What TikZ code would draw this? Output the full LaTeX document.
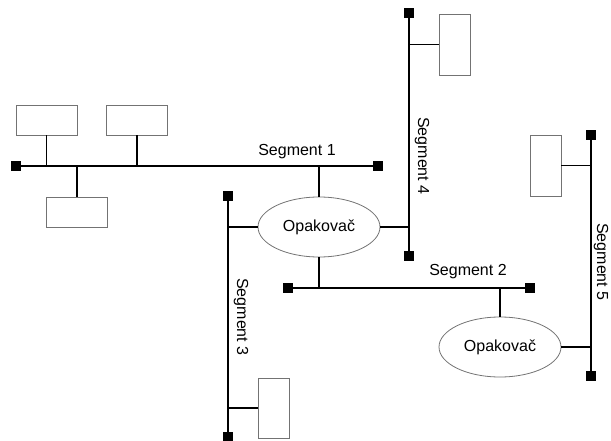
\documentclass[tikz,border=0pt]{standalone}
\usepackage{fontspec}
\setmainfont{Liberation Sans}
\usetikzlibrary{shapes.geometric}
\begin{document}
\begin{tikzpicture}[x=1pt,y=-1pt,
  term/.style={fill=black,draw=none,minimum size=10pt,inner sep=0pt,rectangle},
  station/.style={draw=black!55,line width=0.8pt,fill=white,inner sep=0pt,rectangle},
  rep/.style={ellipse,draw=black!55,line width=0.8pt,fill=white,minimum width=122pt,minimum height=60pt,inner sep=0pt,font=\fontsize{16}{18}\selectfont},
  bus/.style={line width=1.8pt,black},
  stem/.style={line width=1.4pt,black},
  lbl/.style={font=\fontsize{16}{18}\selectfont,inner sep=0pt}]
\useasboundingbox (0,0) rectangle (611,441);
% terminators
\node[term] (t1a) at (16,166) {};
\node[term] (t1b) at (378,166) {};
\node[term] (t2a) at (288,288) {};
\node[term] (t2b) at (530,288) {};
\node[term] (t3a) at (228,196) {};
\node[term] (t3b) at (228,437) {};
\node[term] (t4a) at (409,13) {};
\node[term] (t4b) at (409,256) {};
\node[term] (t5a) at (591,135) {};
\node[term] (t5b) at (591,376) {};
% buses
\draw[bus] (t1a) -- (t1b);
\draw[bus] (t2a) -- (t2b);
\draw[bus] (t3a) -- (t3b);
\draw[bus] (t4a) -- (t4b);
\draw[bus] (t5a) -- (t5b);
% repeaters
\node[rep] (r1) at (319,227) {Opakovač};
\node[rep] (r2) at (500,347) {Opakovač};
% stations
\node[station,minimum width=61pt,minimum height=30pt] (s1) at (46.5,120) {};
\node[station,minimum width=61pt,minimum height=30pt] (s2) at (137,120) {};
\node[station,minimum width=61pt,minimum height=30pt] (s3) at (77,212) {};
\node[station,minimum width=31pt,minimum height=61pt] (s4) at (454.5,44.5) {};
\node[station,minimum width=31pt,minimum height=61pt] (s5) at (545.5,165.5) {};
\node[station,minimum width=31pt,minimum height=60pt] (s6) at (273.5,408) {};
% stems
\draw[stem] (s1.south) -- (s1.south |- t1a);
\draw[stem] (s2.south) -- (s2.south |- t1a);
\draw[stem] (s3.north) -- (s3.north |- t1a);
\draw[stem] (r1.north) -- (r1.north |- t1a);
\draw[stem] (r1.west) -- (r1.west -| t3a);
\draw[stem] (r1.east) -- (r1.east -| t4a);
\draw[stem] (r1.south) -- (r1.south |- t2a);
\draw[stem] (r2.north) -- (r2.north |- t2a);
\draw[stem] (r2.east) -- (r2.east -| t5a);
\draw[stem] (s4.west) -- (s4.west -| t4a);
\draw[stem] (s5.east) -- (s5.east -| t5a);
\draw[stem] (s6.west) -- (s6.west -| t3a);
% labels
\node[lbl] (l1) at (297,152) {Segment 1};
\node[lbl] (l2) at (468,272) {Segment 2};
\node[lbl,rotate=-90] (l3) at (241,317) {Segment 3};
\node[lbl,rotate=-90] (l4) at (422,156) {Segment 4};
\node[lbl,rotate=-90] (l5) at (601,262) {Segment 5};
\end{tikzpicture}
\end{document}
